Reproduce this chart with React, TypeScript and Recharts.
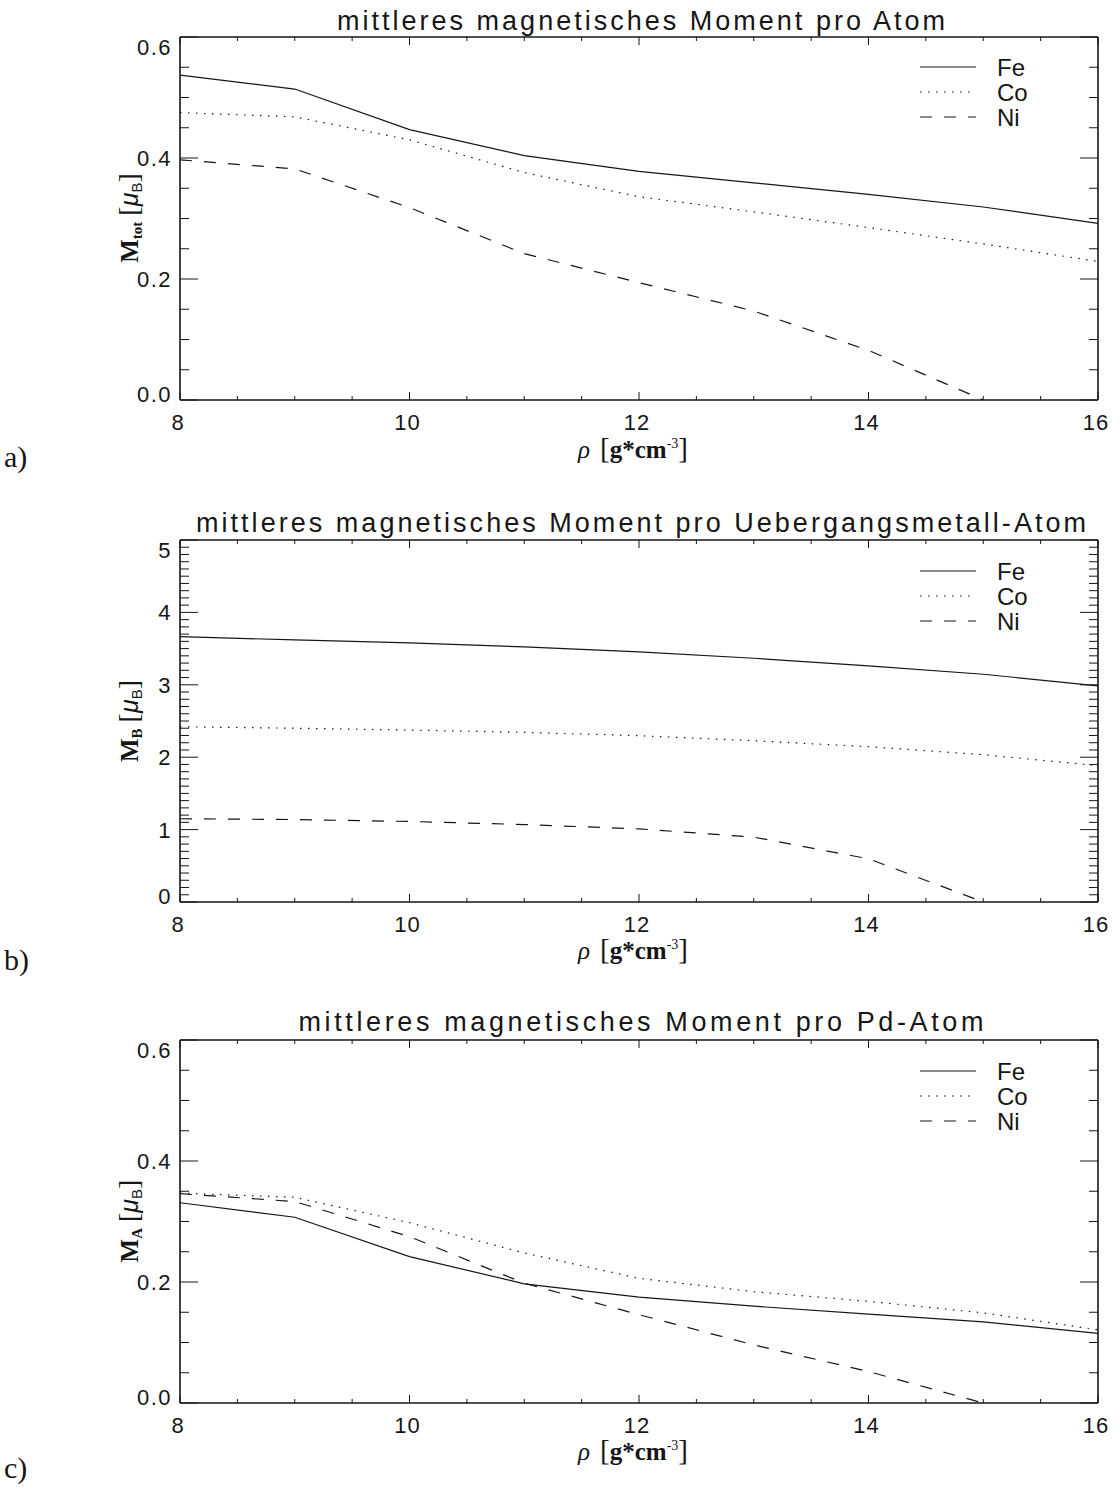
import React from 'react';
import { LineChart, Line, XAxis, YAxis } from 'recharts';

// Dichte rho in g/cm^3
const rho = [8, 9, 10, 11, 12, 13, 14, 15, 16];

// a) mittleres Moment pro Atom
const feTot = [0.537, 0.514, 0.447, 0.404, 0.378, 0.359, 0.340, 0.319, 0.292];
const coTot = [0.475, 0.468, 0.430, 0.376, 0.336, 0.311, 0.285, 0.258, 0.229];
const niTot = [0.397, 0.382, 0.318, 0.242, 0.194, 0.147, 0.082, 0.0, null];

// b) Moment pro Uebergangsmetall-Atom
const feB = [3.666, 3.620, 3.578, 3.523, 3.454, 3.367, 3.261, 3.146, 2.986];
const coB = [2.420, 2.400, 2.375, 2.343, 2.297, 2.228, 2.145, 2.035, 1.883];
const niB = [1.150, 1.139, 1.112, 1.070, 1.010, 0.896, 0.597, 0.0, null];

// c) Moment pro Pd-Atom
const feA = [0.331, 0.307, 0.242, 0.197, 0.175, 0.160, 0.147, 0.134, 0.115];
const coA = [0.347, 0.340, 0.298, 0.248, 0.206, 0.184, 0.168, 0.149, 0.121];
const niA = [0.346, 0.333, 0.275, 0.198, 0.146, 0.096, 0.052, 0.0, null];

const seriesNames = ['Fe', 'Co', 'Ni'];

// axis ticks
const xMajor = [8, 10, 12, 14, 16];
const yMajorMoment = [0, 0.2, 0.4, 0.6];
const yMajorB = [0, 1, 2, 3, 4, 5];

const steps = (from: number, to: number, step: number) => {
  const out: number[] = [];
  const n = Math.round((to - from) / step);
  for (let i = 0; i <= n; i++) out.push(Math.round((from + i * step) * 1000) / 1000);
  return out;
};

const xTicks = steps(8, 16, 0.5);
const yTicksMoment = steps(0, 0.6, 0.05);
const yTicksB = steps(0, 5, 0.1);

const INK = '#161616';
const SANS = '"Liberation Sans", Arial, sans-serif';
const SERIF = '"Liberation Serif", "DejaVu Serif", serif';
const DASH: Record<string, string | undefined> = { Fe: undefined, Co: '1.5 6.5', Ni: '12 12' };

const PLOT_LEFT = 180;
const PLOT_RIGHT = 1098;

const toRows = (fe: (number | null)[], co: (number | null)[], ni: (number | null)[]) =>
  rho.map((r, i) => ({ rho: r, Fe: fe[i], Co: co[i], Ni: ni[i] }));

const XTick = ({ x, y, payload, side }: any) => {
  const major = xMajor.includes(payload.value);
  const len = major ? 8 : 4;
  const dir = side === 'bottom' ? -1 : 1;
  return (
    <g>
      <line x1={x} x2={x} y1={y} y2={y + dir * len} stroke={INK} strokeWidth={1} />
      {side === 'bottom' && major && (
        <text x={x - 2} y={y + 30} textAnchor="middle" fontFamily={SANS} fontSize={22} fill={INK} letterSpacing={1}>
          {payload.value}
        </text>
      )}
    </g>
  );
};

const YTick = ({ x, y, payload, side, majors, fmt, domain }: any) => {
  const major = majors.includes(payload.value);
  const len = major ? 18 : 9;
  const dir = side === 'left' ? 1 : -1;
  let dy = 8;
  if (payload.value === domain[1]) dy += 10;
  if (payload.value === domain[0]) dy -= 6;
  return (
    <g>
      <line x1={x} x2={x + dir * len} y1={y} y2={y} stroke={INK} strokeWidth={1} />
      {side === 'left' && major && (
        <text x={x - 8} y={y + dy} textAnchor="end" fontFamily={SANS} fontSize={22} fill={INK} letterSpacing={1.5}>
          {fmt(payload.value)}
        </text>
      )}
    </g>
  );
};

interface PanelProps {
  top: number;
  height: number;
  plotTop: number;
  plotBottom: number;
  rows: any[];
  domain: [number, number];
  yTicks: number[];
  yMajor: number[];
  fmt: (v: number) => string;
}

const Panel: React.FC<PanelProps> = ({ top, height, plotTop, plotBottom, rows, domain, yTicks, yMajor, fmt }) => {
  // each axis takes 1px, the margins are trimmed so the frame sits on the plot edges
  const margin = {
    top: plotTop - top - 1,
    bottom: top + height - plotBottom - 1,
    left: PLOT_LEFT - 1,
    right: 1120 - PLOT_RIGHT - 1,
  };
  const axisLine = { stroke: INK, strokeWidth: 1.6 };
  const common = { tickSize: 0, tickMargin: 0, tickLine: false, axisLine, interval: 0 as const, allowDataOverflow: true };
  return (
    <div style={{ position: 'absolute', left: 0, top }}>
      <LineChart width={1120} height={height} data={rows} margin={margin}>
        <XAxis xAxisId="b" type="number" dataKey="rho" domain={[8, 16]} ticks={xTicks} height={1} {...common}
          tick={(p: any) => <XTick {...p} side="bottom" />} />
        <XAxis xAxisId="t" orientation="top" type="number" dataKey="rho" domain={[8, 16]} ticks={xTicks} height={1} {...common}
          tick={(p: any) => <XTick {...p} side="top" />} />
        <YAxis yAxisId="l" type="number" domain={domain} ticks={yTicks} width={1} {...common}
          tick={(p: any) => <YTick {...p} side="left" majors={yMajor} fmt={fmt} domain={domain} />} />
        <YAxis yAxisId="r" orientation="right" type="number" domain={domain} ticks={yTicks} width={1} {...common}
          tick={(p: any) => <YTick {...p} side="right" majors={yMajor} fmt={fmt} domain={domain} />} />
        {seriesNames.map((s) => (
          <Line key={s} xAxisId="b" yAxisId="l" type="linear" dataKey={s} stroke={INK} strokeWidth={1.2}
            strokeDasharray={DASH[s]} dot={false} activeDot={false} connectNulls={false} isAnimationActive={false} />
        ))}
      </LineChart>
    </div>
  );
};

const Legend: React.FC<{ y: number }> = ({ y }) => (
  <g>
    {seriesNames.map((s, i) => (
      <g key={s}>
        <line x1={920} x2={976} y1={y + i * 25} y2={y + i * 25} stroke={INK} strokeWidth={1.2} strokeDasharray={DASH[s]} />
        <text x={997} y={y + i * 25 + 9} fontFamily={SANS} fontSize={24} fill={INK}>{s}</text>
      </g>
    ))}
  </g>
);

const Title: React.FC<{ y: number; width: number; children: string }> = ({ y, width, children }) => (
  <text x={641} y={y} textAnchor="middle" fontFamily={SANS} fontSize={27} fill={INK} textLength={width} lengthAdjust="spacing">
    {children}
  </text>
);

const YTitle: React.FC<{ cy: number; sub: string }> = ({ cy, sub }) => (
  <text transform={`translate(138, ${cy}) rotate(-90)`} textAnchor="middle" fill={INK} fontSize={25}>
    <tspan fontFamily={SERIF} fontWeight="bold">M</tspan>
    <tspan fontFamily={SERIF} fontWeight="bold" fontSize={15} dy={4}>{sub}</tspan>
    <tspan fontFamily={SERIF} dy={-4} dx={6} fontSize={28}>[</tspan>
    <tspan fontFamily={SANS} fontStyle="italic">μ</tspan>
    <tspan fontFamily={SANS} fontSize={15} dy={4}>B</tspan>
    <tspan fontFamily={SERIF} dy={-4} fontSize={28}>]</tspan>
  </text>
);

const XTitle: React.FC<{ y: number }> = ({ y }) => (
  <text x={633} y={y} textAnchor="middle" fill={INK} fontSize={25} fontFamily={SERIF}>
    <tspan fontStyle="italic">ρ</tspan>
    <tspan dx={10} fontSize={29}>[</tspan>
    <tspan fontWeight="bold">g*cm</tspan>
    <tspan fontSize={14} dy={-10}>-3</tspan>
    <tspan dy={10} fontSize={29}>]</tspan>
  </text>
);

const PanelLabel: React.FC<{ y: number; children: string }> = ({ y, children }) => (
  <text x={4} y={y} fontFamily={SERIF} fontSize={30} fill={INK}>{children}</text>
);

export default function App() {
  return (
    <div style={{ position: 'absolute', left: 0, top: 0, width: 1120, height: 1499, background: '#fff' }}>
      <Panel top={0} height={480} plotTop={37} plotBottom={400} rows={toRows(feTot, coTot, niTot)}
        domain={[0, 0.6]} yTicks={yTicksMoment} yMajor={yMajorMoment} fmt={(v) => v.toFixed(1)} />
      <Panel top={490} height={500} plotTop={540} plotBottom={902} rows={toRows(feB, coB, niB)}
        domain={[0, 5]} yTicks={yTicksB} yMajor={yMajorB} fmt={(v) => String(v)} />
      <Panel top={990} height={509} plotTop={1040} plotBottom={1403} rows={toRows(feA, coA, niA)}
        domain={[0, 0.6]} yTicks={yTicksMoment} yMajor={yMajorMoment} fmt={(v) => v.toFixed(1)} />
      <svg width={1120} height={1499} style={{ position: 'absolute', left: 0, top: 0, pointerEvents: 'none' }}>
        <Title y={30} width={608}>mittleres magnetisches Moment pro Atom</Title>
        <Title y={532} width={890}>mittleres magnetisches Moment pro Uebergangsmetall-Atom</Title>
        <Title y={1031} width={685}>mittleres magnetisches Moment pro Pd-Atom</Title>
        <Legend y={67} />
        <Legend y={571} />
        <Legend y={1071} />
        <YTitle cy={218} sub="tot" />
        <YTitle cy={721} sub="B" />
        <YTitle cy={1221} sub="A" />
        <XTitle y={458} />
        <XTitle y={959} />
        <XTitle y={1460} />
        <PanelLabel y={467}>a)</PanelLabel>
        <PanelLabel y={970}>b)</PanelLabel>
        <PanelLabel y={1478}>c)</PanelLabel>
      </svg>
    </div>
  );
}
